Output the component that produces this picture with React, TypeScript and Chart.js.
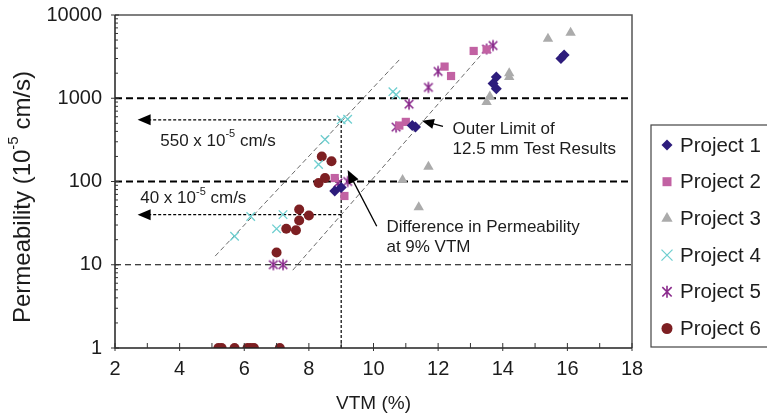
import React, { useEffect, useRef } from 'react';
import { Chart, registerables } from 'chart.js';

Chart.register(...registerables);

// Axis ticks
const X_TICKS = [2, 4, 6, 8, 10, 12, 14, 16, 18];
const Y_TICKS = [1, 10, 100, 1000, 10000];

// Project results: VTM (%) and permeability (10^-5 cm/s)
const p1Vtm = [8.8, 9.0, 11.2, 11.3, 13.8, 13.7, 13.8, 15.8, 15.9];
const p1Perm = [77, 85, 470, 450, 1800, 1500, 1300, 3000, 3300];
const p2Vtm = [8.8, 9.1, 10.8, 11.0, 12.2, 12.4, 13.1, 13.5];
const p2Perm = [110, 67, 470, 520, 2400, 1850, 3700, 3850];
const p3Vtm = [10.9, 11.4, 11.7, 13.5, 13.6, 14.2, 14.2, 15.4, 16.1];
const p3Perm = [104, 49, 150, 900, 1050, 1800, 2000, 5200, 6100];
const p4Vtm = [5.7, 6.2, 7.0, 7.2, 8.3, 8.5, 9.0, 9.2, 10.6, 10.7];
const p4Perm = [22, 38, 27, 40, 160, 320, 550, 560, 1200, 1100];
const p5Vtm = [6.9, 7.2, 8.9, 9.2, 10.7, 11.1, 11.7, 12.0, 13.5, 13.7];
const p5Perm = [10, 10, 96, 100, 450, 850, 1350, 2100, 3900, 4300];
const p6Vtm = [5.2, 5.3, 5.7, 6.1, 6.2, 6.3, 7.1, 7.0, 7.3, 7.6, 7.7, 7.7, 8.0, 8.3, 8.5, 8.4, 8.7];
const p6Perm = [1, 1, 1, 1, 1, 1, 1, 14, 27, 26, 34, 46, 39, 96, 110, 200, 175];

const PROJECT_NAMES = ['Project 1', 'Project 2', 'Project 3', 'Project 4', 'Project 5', 'Project 6'];
const PROJECT_COLORS = ['#2d1c7c', '#c262a3', '#ababab', '#6fcfd0', '#8a2a8c', '#7d1f22'];
const PROJECT_MARKERS = ['diamond', 'square', 'triangle', 'x', 'asterisk', 'circle'];

// Reference levels and the 9% VTM comparison
const LEVELS_MAJOR = [1000, 100];
const LEVELS_MINOR = [10];
const COMPARE_VTM = 9;
const COMPARE_PERM = [550, 40];
const ARROW_END_VTM = 2.7;

// Band limits (VTM, permeability)
const bandLeftVtm = [5.1, 10.8];
const bandLeftPerm = [12.7, 2900];
const bandRightVtm = [7.5, 13.5];
const bandRightPerm = [8.6, 3950];

const FONT = "Arial, 'Liberation Sans', Helvetica, sans-serif";
const TEXT_COLOR = '#1c1c1c';

function makeAsterisk(color: string, r: number) {
  const c = document.createElement('canvas');
  const s = Math.ceil(r * 2 + 3);
  c.width = s;
  c.height = s;
  const g = c.getContext('2d')!;
  drawAsterisk(g, s / 2, s / 2, r, color);
  return c;
}

function drawAsterisk(g: CanvasRenderingContext2D, x: number, y: number, r: number, color: string) {
  g.save();
  g.strokeStyle = color;
  g.lineWidth = 1.6;
  const d = r * 0.78;
  g.beginPath();
  g.moveTo(x - d, y - d);
  g.lineTo(x + d, y + d);
  g.moveTo(x + d, y - d);
  g.lineTo(x - d, y + d);
  g.moveTo(x, y - r);
  g.lineTo(x, y + r);
  g.stroke();
  g.restore();
}

function drawMarker(ctx: CanvasRenderingContext2D, kind: string, x: number, y: number, color: string) {
  ctx.save();
  ctx.fillStyle = color;
  ctx.strokeStyle = color;
  ctx.beginPath();
  if (kind === 'diamond') {
    const r = 5.5;
    ctx.moveTo(x, y - r);
    ctx.lineTo(x + r, y);
    ctx.lineTo(x, y + r);
    ctx.lineTo(x - r, y);
    ctx.closePath();
    ctx.fill();
  } else if (kind === 'square') {
    ctx.rect(x - 4.5, y - 4.5, 9, 9);
    ctx.fill();
  } else if (kind === 'triangle') {
    const r = 6.5;
    ctx.moveTo(x, y - r);
    ctx.lineTo(x + r * 0.87, y + r * 0.5);
    ctx.lineTo(x - r * 0.87, y + r * 0.5);
    ctx.closePath();
    ctx.fill();
  } else if (kind === 'x') {
    const d = 5.5;
    ctx.lineWidth = 1.3;
    ctx.moveTo(x - d, y - d);
    ctx.lineTo(x + d, y + d);
    ctx.moveTo(x + d, y - d);
    ctx.lineTo(x - d, y + d);
    ctx.stroke();
  } else if (kind === 'asterisk') {
    drawAsterisk(ctx, x, y, 6, color);
  } else {
    ctx.arc(x, y, 5.5, 0, Math.PI * 2);
    ctx.fill();
  }
  ctx.restore();
}

// Text with optional superscript parts: [normal, sup, normal, ...]
function drawRich(ctx: CanvasRenderingContext2D, parts: string[], x: number, y: number, size: number, align: 'left' | 'center') {
  const supSize = Math.round(size * 0.62);
  const widths = parts.map((p, i) => {
    ctx.font = `${i % 2 === 1 ? supSize : size}px ${FONT}`;
    return ctx.measureText(p).width;
  });
  const total = widths.reduce((a, b) => a + b, 0);
  let cx = align === 'center' ? x - total / 2 : x;
  ctx.textBaseline = 'middle';
  ctx.textAlign = 'left';
  parts.forEach((p, i) => {
    const sup = i % 2 === 1;
    ctx.font = `${sup ? supSize : size}px ${FONT}`;
    ctx.fillText(p, cx, sup ? y - size * 0.38 : y);
    cx += widths[i];
  });
}

function arrowHead(ctx: CanvasRenderingContext2D, tx: number, ty: number, fx: number, fy: number, len: number, half: number) {
  const a = Math.atan2(ty - fy, tx - fx);
  const bx = tx - len * Math.cos(a);
  const by = ty - len * Math.sin(a);
  ctx.beginPath();
  ctx.moveTo(tx, ty);
  ctx.lineTo(bx + half * Math.sin(a), by - half * Math.cos(a));
  ctx.lineTo(bx - half * Math.sin(a), by + half * Math.cos(a));
  ctx.closePath();
  ctx.fill();
}

const overlayPlugin = {
  id: 'overlay',
  beforeDatasetsDraw(chart: any) {
    const { ctx, chartArea: ca } = chart;
    const xs = chart.scales.x;
    const ys = chart.scales.y;
    const px = (v: number) => xs.getPixelForValue(v);
    const py = (v: number) => ys.getPixelForValue(v);
    ctx.save();

    // horizontal reference levels
    ctx.strokeStyle = '#000';
    ctx.lineWidth = 2;
    ctx.setLineDash([7, 4]);
    LEVELS_MAJOR.forEach((v) => {
      ctx.beginPath();
      ctx.moveTo(ca.left, py(v));
      ctx.lineTo(ca.right, py(v));
      ctx.stroke();
    });
    ctx.lineWidth = 1.2;
    ctx.setLineDash([6, 4]);
    LEVELS_MINOR.forEach((v) => {
      ctx.beginPath();
      ctx.moveTo(ca.left, py(v));
      ctx.lineTo(ca.right, py(v));
      ctx.stroke();
    });

    // band limits
    ctx.save();
    ctx.beginPath();
    ctx.rect(ca.left, ca.top, ca.right - ca.left, ca.bottom - ca.top);
    ctx.clip();
    ctx.strokeStyle = '#6a6a6a';
    ctx.lineWidth = 1;
    ctx.setLineDash([5, 3]);
    [[bandLeftVtm, bandLeftPerm], [bandRightVtm, bandRightPerm]].forEach(([vx, vy]) => {
      ctx.beginPath();
      ctx.moveTo(px(vx[0]), py(vy[0]));
      ctx.lineTo(px(vx[1]), py(vy[1]));
      ctx.stroke();
    });
    ctx.restore();

    // 9% VTM comparison
    ctx.strokeStyle = '#000';
    ctx.fillStyle = '#000';
    ctx.lineWidth = 1.2;
    ctx.setLineDash([3, 2]);
    const top = Math.max(...COMPARE_PERM);
    ctx.beginPath();
    ctx.moveTo(px(COMPARE_VTM), ca.bottom);
    ctx.lineTo(px(COMPARE_VTM), py(top));
    ctx.stroke();
    COMPARE_PERM.forEach((v) => {
      const tip = px(ARROW_END_VTM);
      ctx.setLineDash([3, 2]);
      ctx.beginPath();
      ctx.moveTo(px(COMPARE_VTM), py(v));
      ctx.lineTo(tip + 10, py(v));
      ctx.stroke();
      ctx.setLineDash([]);
      arrowHead(ctx, tip, py(v), tip + 20, py(v), 13, 5.5);
    });
    ctx.restore();
  },
  afterDraw(chart: any) {
    const { ctx, chartArea: ca } = chart;
    const xs = chart.scales.x;
    const ys = chart.scales.y;
    const px = (v: number) => xs.getPixelForValue(v);
    const py = (v: number) => ys.getPixelForValue(v);
    ctx.save();
    ctx.setLineDash([]);

    // plot frame
    ctx.strokeStyle = '#555';
    ctx.lineWidth = 1.5;
    ctx.beginPath();
    ctx.moveTo(ca.left, ca.top);
    ctx.lineTo(ca.right, ca.top);
    ctx.lineTo(ca.right, ca.bottom);
    ctx.stroke();
    ctx.strokeStyle = '#222';
    ctx.beginPath();
    ctx.moveTo(ca.left, ca.top);
    ctx.lineTo(ca.left, ca.bottom);
    ctx.lineTo(ca.right, ca.bottom);
    ctx.stroke();

    // tick marks
    ctx.lineWidth = 1;
    ctx.strokeStyle = '#333';
    for (let v = 2; v <= 18; v += 1) {
      const x = px(v);
      ctx.beginPath();
      ctx.moveTo(x, ca.bottom + (v % 2 === 0 ? 3 : 0));
      ctx.lineTo(x, ca.bottom - 5);
      ctx.stroke();
    }
    for (let d = 1; d <= 10000; d *= 10) {
      ctx.beginPath();
      ctx.moveTo(ca.left - 4, py(d));
      ctx.lineTo(ca.left + 4, py(d));
      ctx.stroke();
      if (d < 10000) {
        for (let k = 2; k <= 9; k++) {
          const y = py(d * k);
          ctx.beginPath();
          ctx.moveTo(ca.left, y);
          ctx.lineTo(ca.left + 3, y);
          ctx.stroke();
        }
      }
    }

    ctx.fillStyle = TEXT_COLOR;
    // axis titles
    ctx.save();
    ctx.translate(23, 197);
    ctx.rotate(-Math.PI / 2);
    drawRich(ctx, ['Permeability (10', '-5', ' cm/s)'], 0, 0, 24, 'center');
    ctx.restore();
    drawRich(ctx, ['VTM (%)'], (ca.left + ca.right) / 2, 404, 19, 'center');

    // annotations
    drawRich(ctx, ['550 x 10', '-5', ' cm/s'], px(3.4), py(COMPARE_PERM[0]) + 21, 17, 'left');
    drawRich(ctx, ['40 x 10', '-5', ' cm/s'], px(2.78), py(COMPARE_PERM[1]) - 16, 17, 'left');
    drawRich(ctx, ['Outer Limit of'], px(12.2) + 8, 129, 17, 'left');
    drawRich(ctx, ['12.5 mm Test Results'], px(12.2) + 8, 149, 17, 'left');
    drawRich(ctx, ['Difference in Permeability'], px(10.4), 227, 17, 'left');
    drawRich(ctx, ['at 9% VTM'], px(10.4), 247, 17, 'left');

    ctx.strokeStyle = '#000';
    ctx.fillStyle = '#000';
    ctx.lineWidth = 1.3;
    // outer limit pointer
    {
      const fx = px(12.15), fy = py(460), tx = px(11.5), ty = py(535);
      ctx.beginPath();
      ctx.moveTo(fx, fy);
      ctx.lineTo(tx + 6, ty + 1.5);
      ctx.stroke();
      arrowHead(ctx, tx, ty, fx, fy, 12, 5);
    }
    // difference pointer
    {
      const fx = px(10.1), fy = py(29), tx = px(9.2), ty = py(137);
      ctx.beginPath();
      ctx.moveTo(fx, fy);
      ctx.lineTo(tx + 3, ty + 6);
      ctx.stroke();
      arrowHead(ctx, tx, ty, fx, fy, 13, 5.5);
    }

    // legend
    const lx = 651, lt = 125, lb = 347;
    ctx.strokeStyle = '#444';
    ctx.lineWidth = 1.2;
    ctx.strokeRect(lx, lt, 200, lb - lt);
    PROJECT_NAMES.forEach((name, i) => {
      const y = 145 + i * 36.7;
      drawMarker(ctx, PROJECT_MARKERS[i], 667, y, PROJECT_COLORS[i]);
      ctx.fillStyle = TEXT_COLOR;
      drawRich(ctx, [name], 680, y + 1, 20.5, 'left');
    });
    ctx.restore();
  },
};

function toPoints(xs: number[], ys: number[]) {
  return xs.map((x, i) => ({ x, y: ys[i] }));
}

export default function App() {
  const canvasRef = useRef<HTMLCanvasElement>(null);

  useEffect(() => {
    if (!canvasRef.current) return;
    const asterisk = makeAsterisk(PROJECT_COLORS[4], 5.5);
    const series = [
      { data: toPoints(p1Vtm, p1Perm), pointStyle: 'rectRot', pointRadius: 5.5 },
      { data: toPoints(p2Vtm, p2Perm), pointStyle: 'rect', pointRadius: 5.8 },
      { data: toPoints(p3Vtm, p3Perm), pointStyle: 'triangle', pointRadius: 6 },
      { data: toPoints(p4Vtm, p4Perm), pointStyle: 'crossRot', pointRadius: 6, borderWidth: 1.3 },
      { data: toPoints(p5Vtm, p5Perm), pointStyle: asterisk as any, pointRadius: 6 },
      { data: toPoints(p6Vtm, p6Perm), pointStyle: 'circle', pointRadius: 5 },
    ];
    const chart = new Chart(canvasRef.current, {
      type: 'scatter',
      data: {
        datasets: series.map((s, i) => ({
          label: PROJECT_NAMES[i],
          data: s.data,
          pointStyle: s.pointStyle as any,
          pointRadius: s.pointRadius,
          pointHoverRadius: s.pointRadius,
          backgroundColor: PROJECT_COLORS[i],
          borderColor: PROJECT_COLORS[i],
          borderWidth: (s as any).borderWidth ?? 0,
          showLine: false,
        })),
      },
      options: {
        responsive: false,
        animation: false,
        layout: { padding: { left: 0, right: 135, top: 15, bottom: 0 } },
        plugins: { legend: { display: false }, tooltip: { enabled: false } },
        scales: {
          x: {
            type: 'linear',
            min: 2,
            max: 18,
            afterBuildTicks: (s: any) => {
              s.ticks = X_TICKS.map((value) => ({ value }));
            },
            afterFit: (s: any) => {
              s.height = 70;
              s.paddingLeft = 0;
              s.paddingRight = 0;
            },
            grid: { display: false, drawTicks: false },
            border: { display: false },
            ticks: { color: TEXT_COLOR, font: { family: FONT, size: 20 }, padding: 9, maxRotation: 0, autoSkip: false },
          },
          y: {
            type: 'logarithmic',
            min: 1,
            max: 10000,
            afterBuildTicks: (s: any) => {
              s.ticks = Y_TICKS.map((value) => ({ value }));
            },
            afterFit: (s: any) => {
              s.width = 115;
              s.paddingTop = 0;
              s.paddingBottom = 0;
            },
            grid: { display: false, drawTicks: false },
            border: { display: false },
            ticks: {
              color: TEXT_COLOR,
              font: { family: FONT, size: 20 },
              padding: 13,
              autoSkip: false,
              callback: (v: any) => String(v),
            },
          },
        },
      },
      plugins: [overlayPlugin],
    });
    return () => chart.destroy();
  }, []);

  return (
    <div style={{ position: 'absolute', left: 0, top: 0, width: 767, height: 418, background: '#fff' }}>
      <canvas ref={canvasRef} width={767} height={418} style={{ display: 'block' }} />
    </div>
  );
}
